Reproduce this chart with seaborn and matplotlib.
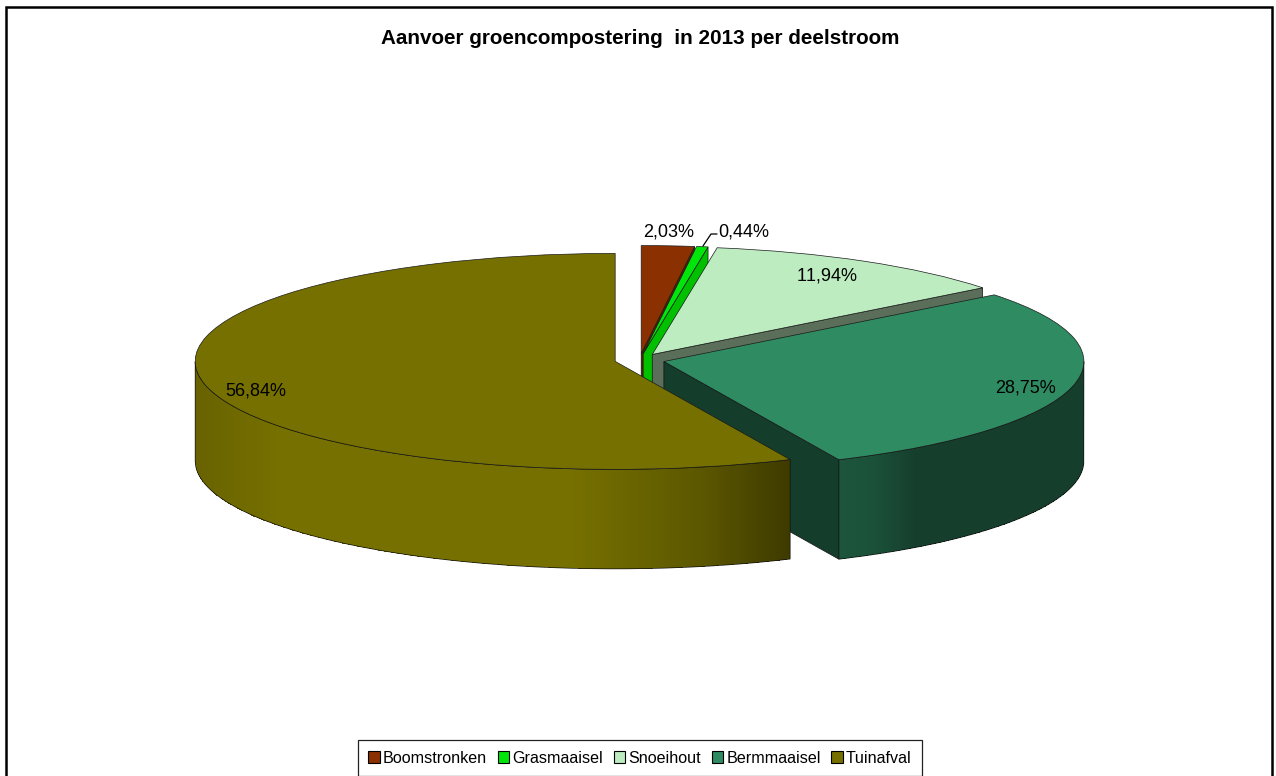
import numpy as np
import matplotlib
matplotlib.use("Agg")
import matplotlib.pyplot as plt
from matplotlib.lines import Line2D
from matplotlib.patches import Patch
import seaborn as sns

categories = ["Boomstronken", "Grasmaaisel", "Snoeihout", "Bermmaaisel", "Tuinafval"]
shares = [2.03, 0.44, 11.94, 28.75, 56.84]
labels = ["2,03%", "0,44%", "11,94%", "28,75%", "56,84%"]
title = "Aanvoer groencompostering  in 2013 per deelstroom"

top_colors = ["#8b3000", "#00e60a", "#bcecc0", "#2e8b62", "#767000"]
face_colors = ["#5a2000", "#00c000", "#5a6e5a", "#143d2b", "#767000"]
shade_x = [[-1, 1], [-1, 1], [-1, 1], [0.40, 0.50, 0.60, 1.0], [-1.0, -0.8, -0.1, 0.2, 0.42]]
shade_f = [[.5, .5], [.8, .8], [.5, .5], [.62, .58, .45, .45], [.88, 1.0, 1.0, .78, .52]]

W, H = 1276, 776
CX, CY, RX, RY, DEPTH_PX = 639.6, 360.0, 420.0, 108.0, 99.5
depth = DEPTH_PX / RY

sns.set_theme(style="white")
plt.rcParams["font.family"] = ["Liberation Sans", "DejaVu Sans"]
plt.rcParams["text.kerning_factor"] = 6
palette = sns.color_palette(top_colors)

fig = plt.figure(figsize=(W / 100, H / 100), dpi=100, facecolor="white")
ax = fig.add_axes([0, 0, 1, 1])
wedges, _ = ax.pie(shares, colors=palette, startangle=90, counterclock=False,
                   explode=[25 / RX] * len(shares), radius=1,
                   wedgeprops=dict(edgecolor="#1a1a1a", linewidth=0.5))
ax.set_aspect("auto")

for i, w in enumerate(wedges):
    z = 10 * (i + 1)
    w.set_zorder(z + 5)
    cx, cy = w.center
    t1, t2 = np.radians(w.theta1), np.radians(w.theta2)
    # clockwise pie: the slice's clockwise end is at theta1
    ex, ey = cx + np.cos(t1), cy + np.sin(t1)
    if i < 4:
        ax.fill([cx, ex, ex, cx], [cy, ey, ey - depth, cy - depth],
                facecolor=face_colors[i], edgecolor="#111111", linewidth=0.5, zorder=z)
    # rim wall on the front half
    th = np.linspace(t1, t2, 400)
    th = th[np.sin(th) < 0]
    if len(th) > 1:
        rgb = np.array(matplotlib.colors.to_rgb(top_colors[i]))
        xs, ys = cx + np.cos(th), cy + np.sin(th)
        mid = 0.5 * (np.cos(th[:-1]) + np.cos(th[1:]))
        shade = np.interp(mid, shade_x[i], shade_f[i])
        C = (rgb[None, :] * shade[:, None])[None, :, :]
        X = np.vstack([xs, xs])
        Y = np.vstack([ys - depth, ys])
        ax.pcolormesh(X, Y, C, shading="flat", antialiased=False, linewidth=0, zorder=z + 1)
        ax.plot(np.r_[xs, xs[::-1], xs[0]], np.r_[ys, ys[::-1] - depth, ys[0]],
                color="#111111", linewidth=0.5, zorder=z + 2)

ax.set_xlim(-CX / RX, (W - CX) / RX)
ax.set_ylim((CY - H) / RY, CY / RY)
ax.axis("off")

def px_text(x, y, s, **kw):
    fig.text(x / W, 1 - y / H, s, ha="center", va="center", color="black", **kw)

label_xy = [(669, 232), (744, 232), (827, 276), (1026, 388), (256, 391)]
for (x, y), s in zip(label_xy, labels):
    px_text(x, y, s, fontsize=13, zorder=100)
px_text(640, 38, title, fontsize=14.9, fontweight="bold")

def px_line(xs, ys, **kw):
    fig.add_artist(Line2D(np.array(xs) / W, 1 - np.array(ys) / H, **kw))

px_line([703, 711, 717], [246, 234, 234], color="black", linewidth=0.9)
px_line([6, 6, 1272, 1272], [776, 7, 7, 776], color="black", linewidth=1.8,
        solid_joinstyle="miter")

handles = [Patch(facecolor=c, edgecolor="black", linewidth=0.8) for c in palette]
leg = fig.legend(handles, categories, ncol=5, loc="lower center",
                 bbox_to_anchor=(640 / W, 0.0), fontsize=11.6, frameon=True, fancybox=False,
                 edgecolor="#222222", framealpha=1, handlelength=0.7, handleheight=0.7,
                 handletextpad=0.2, columnspacing=0.67, borderpad=0.65, borderaxespad=0,
                 labelcolor="black")
leg.get_frame().set_linewidth(0.9)

fig.savefig("out.png", dpi=100)
